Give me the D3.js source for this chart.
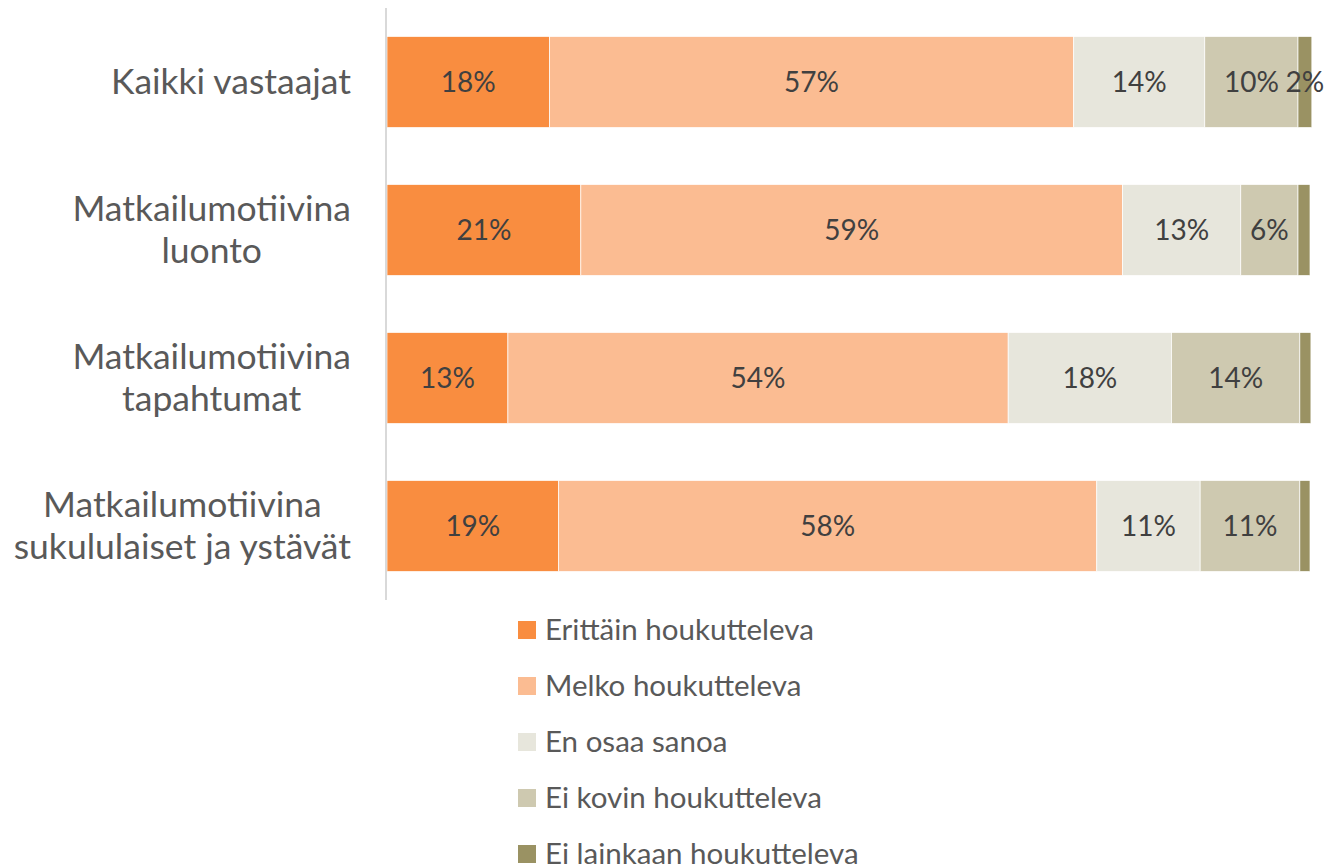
<!DOCTYPE html>
<html>
<head>
<meta charset="utf-8">
<script src="https://cdn.jsdelivr.net/npm/d3@7"></script>
<style>
  body { margin: 0; background: #fff; }
  svg text { font-family: Lato, "Open Sans", sans-serif; }
</style>
</head>
<body>
<div id="chart"></div>
<script>
'use strict'

// categories (two-line labels)
const categories = [
    ['Kaikki vastaajat'],
    ['Matkailumotiivina', 'luonto'],
    ['Matkailumotiivina', 'tapahtumat'],
    ['Matkailumotiivina', 'sukululaiset ja ystävät']
]

const seriesNames = ['Erittäin houkutteleva', 'Melko houkutteleva', 'En osaa sanoa', 'Ei kovin houkutteleva', 'Ei lainkaan houkutteleva']

// values per series, one per category (percent)
const erittain = [17.6, 21.0, 13.1, 18.6]
const melko    = [56.8, 58.7, 54.2, 58.3]
const enOsaa   = [14.2, 12.8, 17.7, 11.2]
const eiKovin  = [10.1, 6.2, 13.9, 10.8]
const eiLainkaan = [1.5, 1.3, 1.2, 1.1]

const seriesValues = [erittain, melko, enOsaa, eiKovin, eiLainkaan]
const colors = ['#F98D40', '#FBBC92', '#E7E6DC', '#CEC9B0', '#9A9263']

////////////////////////////////////
//////////// svg setup /////////////
////////////////////////////////////

const svgWidth = 1328
const svgHeight = 866
const margin = {left: 387, right: 18, top: 8, bottom: 266}

const width = svgWidth - margin.left - margin.right
const height = svgHeight - margin.top - margin.bottom

const svg = d3.select('#chart').append('svg')
    .attr('width', svgWidth)
    .attr('height', svgHeight)

const g = svg.append('g')
    .attr('transform', `translate(${margin.left},${margin.top})`)

// stack the data
const rows = categories.map((c, i) => {
    const r = {key: i}
    seriesNames.forEach((s, j) => r[s] = seriesValues[j][i])
    return r
})
const stacked = d3.stack().keys(seriesNames)(rows)

const xScale = d3.scaleLinear()
    .domain([0, 100])
    .range([0, width])

const yScale = d3.scaleBand()
    .domain(d3.range(categories.length))
    .range([0, height])
    .paddingInner(0.385)
    .paddingOuter(0.1925)

// bars
const layers = g.selectAll('.layer')
    .data(stacked)
    .enter()
    .append('g')
    .attr('class', 'layer')
    .attr('fill', (d, i) => colors[i])

layers.selectAll('rect')
    .data(d => d)
    .enter()
    .append('rect')
    .attr('x', d => xScale(d[0]))
    .attr('y', (d, i) => yScale(i))
    .attr('width', d => xScale(d[1]) - xScale(d[0]))
    .attr('height', yScale.bandwidth())
    .attr('stroke', '#fff')
    .attr('stroke-width', 0.7)

// data labels
layers.selectAll('text')
    .data(d => d)
    .enter()
    .filter(d => Math.round(d[1] - d[0]) >= 2)
    .append('text')
    .attr('x', d => xScale((d[0] + d[1]) / 2))
    .attr('y', (d, i) => yScale(d.data.key) + yScale.bandwidth() / 2)
    .attr('dy', '0.35em')
    .attr('text-anchor', 'middle')
    .attr('fill', '#404040')
    .style('font-size', '28px')
    .text(d => Math.round(d[1] - d[0]) + '%')

// y axis line
g.append('line')
    .attr('x1', -1).attr('x2', -1)
    .attr('y1', 0).attr('y2', height)
    .attr('stroke', '#D9D9D9')
    .attr('stroke-width', 2)

// category labels: lines centred, block right-aligned
const catLabels = g.selectAll('.cat')
    .data(categories)
    .enter()
    .append('text')
    .attr('class', 'cat')
    .attr('text-anchor', 'middle')
    .attr('fill', '#595959')
    .style('font-size', '35.5px')

catLabels.selectAll('tspan')
    .data((d, i) => d.map((line, k) => ({line, k, n: d.length, i})))
    .enter()
    .append('tspan')
    .attr('y', d => yScale(d.i) + yScale.bandwidth() / 2 + (d.k - (d.n - 1) / 2) * 42)
    .attr('dy', '0.35em')
    .text(d => d.line)

catLabels.each(function() {
    const spans = d3.select(this).selectAll('tspan')
    const maxW = d3.max(spans.nodes(), n => n.getComputedTextLength())
    spans.attr('x', -36 - maxW / 2)
})

// legend
const legend = svg.append('g')
    .attr('transform', 'translate(518,630)')

const legendItems = legend.selectAll('.legend-item')
    .data(seriesNames)
    .enter()
    .append('g')
    .attr('class', 'legend-item')
    .attr('transform', (d, i) => `translate(0,${i * 56})`)

legendItems.append('rect')
    .attr('x', 0)
    .attr('y', -9)
    .attr('width', 18)
    .attr('height', 18)
    .attr('fill', (d, i) => colors[i])

legendItems.append('text')
    .attr('x', 27)
    .attr('y', 0)
    .attr('dy', '0.35em')
    .attr('fill', '#595959')
    .style('font-size', '29.5px')
    .text(d => d)
</script>
</body>
</html>
